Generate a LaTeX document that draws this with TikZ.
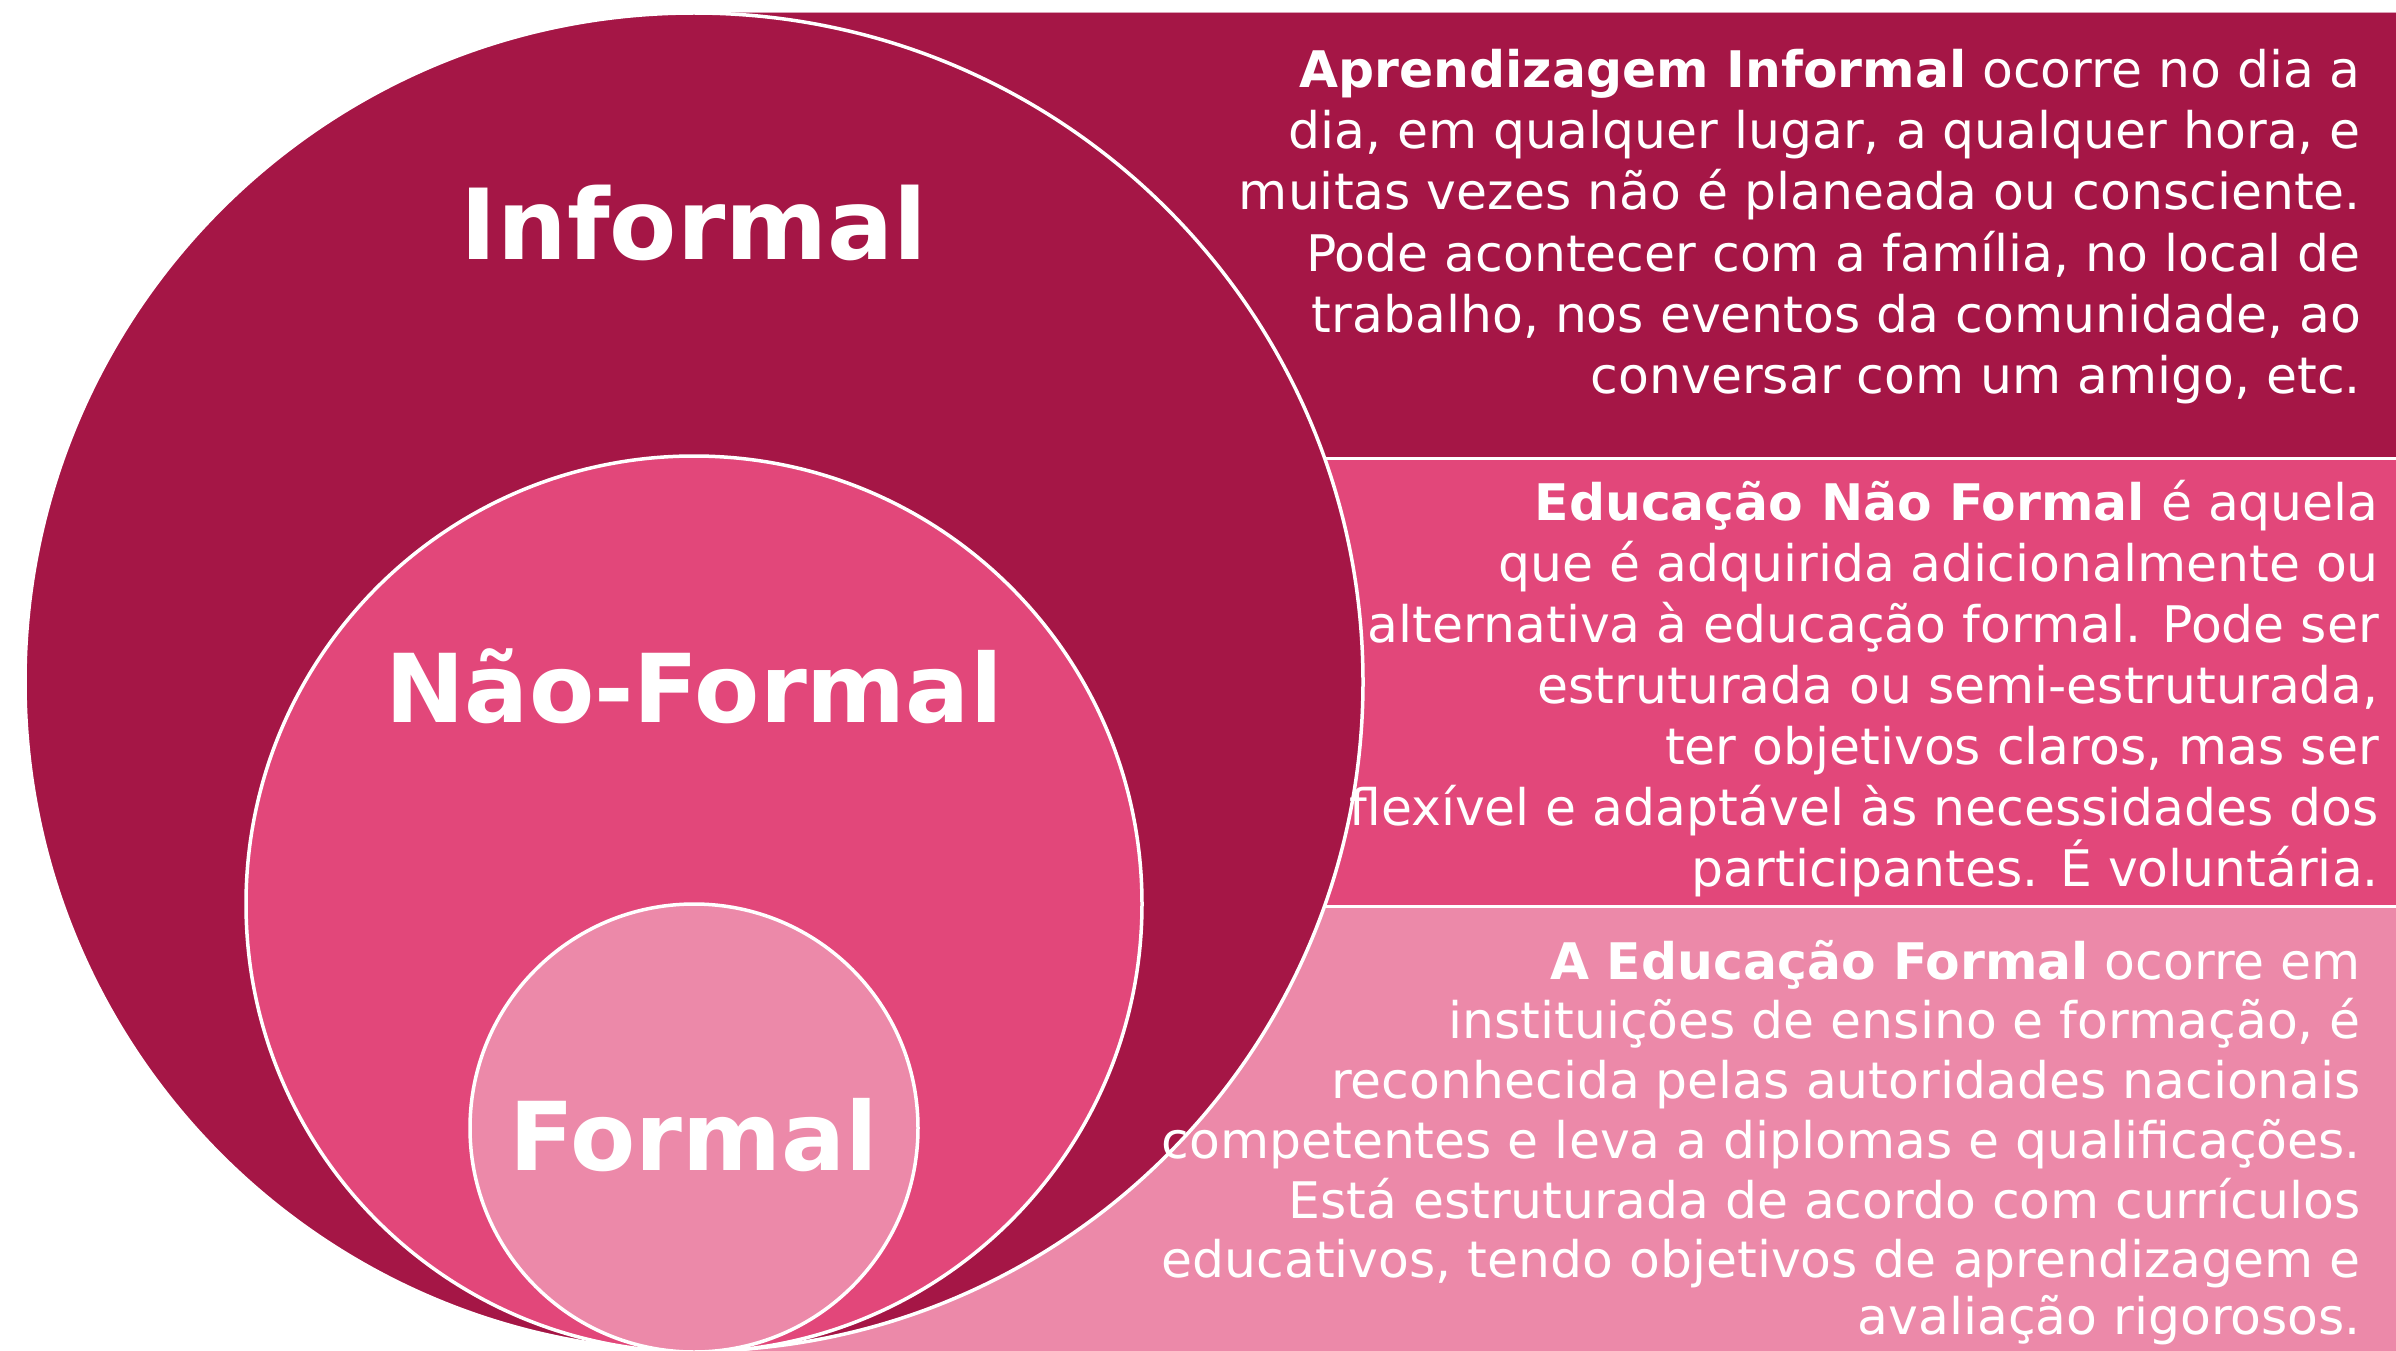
\documentclass[tikz,border=0pt]{standalone}
\usepackage{fontspec}
\setmainfont{DejaVu Sans}
\definecolor{cdark}{HTML}{A51646}
\definecolor{cmid}{HTML}{E2477A}
\definecolor{clight}{HTML}{EC89A9}
\tikzset{
  band/.style={draw=none},
  sep/.style={draw=white, line width=3pt},
  ring/.style={draw=white, line width=3.5pt},
  title/.style={text=white, font=\fontsize{95}{110}\selectfont\bfseries, anchor=base, inner sep=0pt},
  desc/.style={text=white, font=\fontsize{50.4}{60}\selectfont, anchor=base east, inner sep=0pt}
}
\begin{document}
\begin{tikzpicture}[x=1pt, y=-1pt]
\useasboundingbox (0,0) rectangle (2396,1351);
\fill[white] (0,0) rectangle (2396,1351);
% bands
\fill[band, cdark] (694,12) rectangle (2410,458);
\fill[band, cmid] (694,458) rectangle (2410,906);
\fill[band, clight] (694,906) rectangle (2410,1370);
\draw[white, line width=1.5pt, opacity=0.6] (694,12) -- (2410,12);
\draw[sep] (694,458) -- (2410,458);
\draw[sep] (694,906) -- (2410,906);
% circles
\filldraw[ring, fill=cdark] (694,682) circle [radius=669pt];
\filldraw[ring, fill=cmid] (694,904) circle [radius=448pt];
\filldraw[ring, fill=clight] (694,1128) circle [radius=224pt];
% titles
\node[title, font=\fontsize{98}{110}\selectfont\bfseries] (tinf) at (694,259) {Informal};
\node[title] (tnf) at (694,722) {Não-Formal};
\node[title] (tf) at (694,1170) {Formal};
% band 1
\node[desc] (a1) at (2361,88) {\textbf{Aprendizagem Informal} ocorre no dia a};
\node[desc] (a2) at (2361,149) {dia, em qualquer lugar, a qualquer hora, e};
\node[desc] (a3) at (2361,210) {muitas vezes não é planeada ou consciente.};
\node[desc] (a4) at (2361,271) {Pode acontecer com a família, no local de};
\node[desc] (a5) at (2361,332) {trabalho, nos eventos da comunidade, ao};
\node[desc] (a6) at (2361,393) {conversar com um amigo, etc.};
% band 2
\node[desc] (b1) at (2379,520) {\textbf{Educação Não Formal} é aquela};
\node[desc] (b2) at (2379,581) {que é adquirida adicionalmente ou};
\node[desc] (b3) at (2379,642) {alternativa à educação formal. Pode ser};
\node[desc] (b4) at (2379,703) {estruturada ou semi-estruturada,};
\node[desc] (b5) at (2379,764) {ter objetivos claros, mas ser};
\node[desc] (b6) at (2379,825) {flexível e adaptável às necessidades dos};
\node[desc] (b7) at (2379,886) {participantes. É voluntária.};
% band 3
\node[desc] (c1) at (2361,979) {\textbf{A Educação Formal} ocorre em};
\node[desc] (c2) at (2361,1038) {instituições de ensino e formação, é};
\node[desc] (c3) at (2361,1098) {reconhecida pelas autoridades nacionais};
\node[desc] (c4) at (2361,1158) {competentes e leva a diplomas e qualificações.};
\node[desc] (c5) at (2361,1218) {Está estruturada de acordo com currículos};
\node[desc] (c6) at (2361,1277) {educativos, tendo objetivos de aprendizagem e};
\node[desc] (c7) at (2361,1334) {avaliação rigorosos.};
\end{tikzpicture}
\end{document}
